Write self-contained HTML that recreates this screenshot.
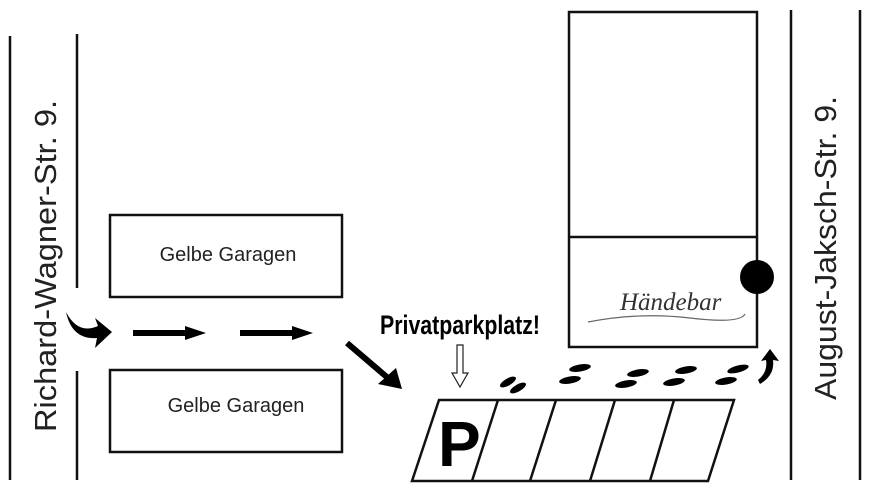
<!DOCTYPE html>
<html><head><style>body{margin:0;background:#fff}svg{display:block}</style></head><body>
<svg width="870" height="487" viewBox="0 0 870 487" xmlns="http://www.w3.org/2000/svg">
<g stroke="#111" stroke-width="2.5" fill="none">
<line x1="10" y1="36" x2="10" y2="480"/>
<line x1="77" y1="34" x2="77" y2="288"/>
<line x1="77" y1="371" x2="77" y2="480"/>
<line x1="791" y1="10" x2="791" y2="480"/>
<line x1="860" y1="10" x2="860" y2="480"/>
<rect x="110" y="215" width="232" height="82"/>
<rect x="110" y="370" width="232" height="82"/>
<rect x="569" y="12" width="188" height="335"/>
<line x1="569" y1="237" x2="757" y2="237"/>
<polygon points="439,400 734,400 708,481 412,481"/>
<line x1="498" y1="400" x2="472" y2="481"/>
<line x1="556" y1="400" x2="530" y2="481"/>
<line x1="615" y1="400" x2="590" y2="481"/>
<line x1="674" y1="400" x2="650" y2="481"/>
</g>
<circle cx="757" cy="277" r="17" fill="#000"/>
<g font-family="'Liberation Sans',sans-serif" fill="#222">
<text x="0" y="0" font-size="31" text-anchor="middle" textLength="332" lengthAdjust="spacingAndGlyphs" transform="translate(56,266) rotate(-90)">Richard-Wagner-Str. 9.</text>
<text x="0" y="0" font-size="31" text-anchor="middle" textLength="304" lengthAdjust="spacingAndGlyphs" transform="translate(836,248) rotate(-90)">August-Jaksch-Str. 9.</text>
<text x="228" y="261" font-size="20" text-anchor="middle">Gelbe Garagen</text>
<text x="236" y="412" font-size="20" text-anchor="middle">Gelbe Garagen</text>
</g>
<text x="380" y="334" font-family="'Liberation Sans',sans-serif" font-weight="bold" font-size="27" textLength="160" lengthAdjust="spacingAndGlyphs" fill="#000">Privatparkplatz!</text>
<text x="438" y="466" font-family="'Liberation Sans',sans-serif" font-weight="bold" font-size="64" fill="#000">P</text>
<text x="620" y="310" font-family="'Liberation Serif',serif" font-style="italic" font-size="25" fill="#333">Händebar</text>
<path d="M588 322 Q640 312 690 318 T745 314" stroke="#666" stroke-width="1.2" fill="none"/>
<g fill="#000">
<path d="M66 312 Q78 335 98 326 L95 318 L112 332 L95 348 L97 338 Q72 340 66 312Z"/>
<rect x="133" y="330" width="52" height="6"/><polygon points="185,326 206,333 185,340"/>
<rect x="240" y="330" width="52" height="6"/><polygon points="292,326 313,333 292,340"/>
<line x1="347" y1="343" x2="388" y2="378" stroke="#000" stroke-width="6"/>
<polygon points="378,384 396,368 402,389"/>
<path d="M758 380 Q768 372 766 360 L761 361 L770 349 L779 361 L773 360 Q775 375 760 384Z"/>
<ellipse cx="508" cy="382" rx="9" ry="3.5" transform="rotate(-30 508 382)"/>
<ellipse cx="518" cy="388" rx="9" ry="3.5" transform="rotate(-30 518 388)"/>
<ellipse cx="580" cy="368" rx="11" ry="3.5" transform="rotate(-10 580 368)"/>
<ellipse cx="570" cy="380" rx="11" ry="3.5" transform="rotate(-10 570 380)"/>
<ellipse cx="638" cy="373" rx="11" ry="3.5" transform="rotate(-10 638 373)"/>
<ellipse cx="626" cy="384" rx="11" ry="3.5" transform="rotate(-10 626 384)"/>
<ellipse cx="686" cy="370" rx="11" ry="3.5" transform="rotate(-10 686 370)"/>
<ellipse cx="674" cy="382" rx="11" ry="3.5" transform="rotate(-10 674 382)"/>
<ellipse cx="738" cy="369" rx="11" ry="3.5" transform="rotate(-15 738 369)"/>
<ellipse cx="726" cy="381" rx="11" ry="3.5" transform="rotate(-10 726 381)"/>
</g>
<path d="M457 345 L463 345 L463 373 L468 373 L460 387 L452 373 L457 373Z" fill="#fff" stroke="#222" stroke-width="1.2"/>
</svg>
</body></html>
